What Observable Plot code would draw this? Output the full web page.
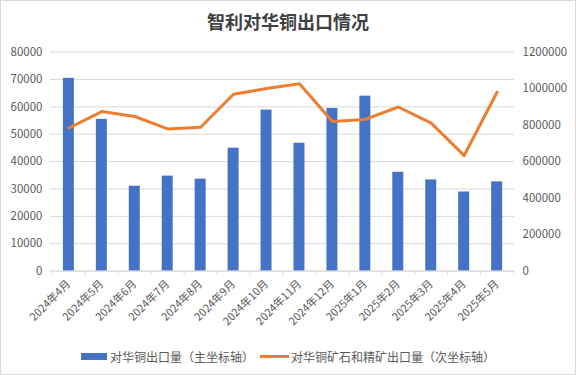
<!DOCTYPE html>
<html><head><meta charset="utf-8">
<script src="https://cdn.jsdelivr.net/npm/d3@7"></script>
<script src="https://cdn.jsdelivr.net/npm/@observablehq/plot@0.6"></script>
<style>
body{margin:0;background:#fff;}
#wrap{position:relative;width:576px;height:375px;box-sizing:border-box;border:1px solid #d9d9d9;font-family:"Noto Sans CJK SC",sans-serif;overflow:hidden;background:#fff}
#title{position:absolute;left:0;top:6px;width:100%;text-align:center;font-size:18px;font-weight:bold;color:#404040;line-height:28px}
#chart{position:absolute;left:-1px;top:39px}
#legend{position:absolute;top:346px;left:80px;font-size:12px;color:#595959;display:flex;align-items:center;height:18px;white-space:nowrap}
.sw{display:inline-block;width:26px;height:7px;background:#4472C4;margin-right:3px}
.ln{display:inline-block;width:29px;height:3px;background:#ED7D31;margin-left:6px;margin-right:2px}
</style></head>
<body>
<div id="wrap">
<div id="title">智利对华铜出口情况</div>
<div id="chart"></div>
<div id="legend"><span class="sw"></span><span>对华铜出口量（主坐标轴）</span><span class="ln"></span><span>对华铜矿石和精矿出口量（次坐标轴）</span></div>
</div>
<script>
const months = ["2024年4月","2024年5月","2024年6月","2024年7月","2024年8月","2024年9月","2024年10月","2024年11月","2024年12月","2025年1月","2025年2月","2025年3月","2025年4月","2025年5月"];
const copperExports = [70400,55400,31000,34700,33600,44900,58800,46700,59400,63900,36100,33300,28900,32600];
const oreExports = [784000,874000,847000,779000,788000,969000,1000000,1026000,820000,831000,899000,811000,633000,981000];
const leftTicks = [0,10000,20000,30000,40000,50000,60000,70000,80000];
const rightTicks = [0,200000,400000,600000,800000,1000000,1200000];
const ratio = 1200000/80000;

const rows = months.map((m,i)=>({month:m, copper:copperExports[i], ore:oreExports[i]/ratio}));
const W = 576, mL = 50, mR = 61;
const step = (W - mL - mR)/months.length;

const chart = Plot.plot({
  width: W, height: 300,
  marginLeft: mL, marginRight: mR, marginTop: 11.6, marginBottom: 69,
  style: {fontFamily: "'Noto Sans CJK SC', sans-serif", fontSize: "11.5px", color: "#595959", background: "transparent"},
  x: {type: "band", domain: months, padding: 0},
  y: {domain: [0, 80000]},
  marks: [
    Plot.gridY(leftTicks, {stroke: "#d9d9d9", strokeOpacity: 1}),
    Plot.barY(rows, {x: "month", y: "copper", fill: "#4472C4", insetLeft: 11, insetRight: 11}),
    Plot.ruleY([0], {stroke: "#d9d9d9", strokeWidth: 1}),
    Plot.ruleX(months, {x: d=>d, dx: -step/2, y1: 0, y2: -1500, stroke: "#d9d9d9", clip: false}),
    Plot.ruleX([months[months.length-1]], {x: d=>d, dx: step/2, y1: 0, y2: -1500, stroke: "#d9d9d9"}),
    Plot.lineY(rows, {x: "month", y: "ore", stroke: "#ED7D31", strokeWidth: 3, strokeLinejoin: "round", strokeLinecap: "round"}),
    Plot.axisY(leftTicks, {anchor: "left", tickSize: 0, tickPadding: 8, label: null, tickFormat: d => String(d), fill: "#595959"}),
    Plot.axisY(rightTicks.map(v => v/ratio), {anchor: "right", tickSize: 0, tickPadding: 8, label: null, tickFormat: d => String(Math.round(d*ratio)), fill: "#595959"}),
    Plot.axisX({tickSize: 0, tickPadding: 11, tickRotate: -45, label: null, fontSize: 11, fill: "#595959"})
  ]
});
document.getElementById("chart").appendChild(chart);
</script>
</body></html>
